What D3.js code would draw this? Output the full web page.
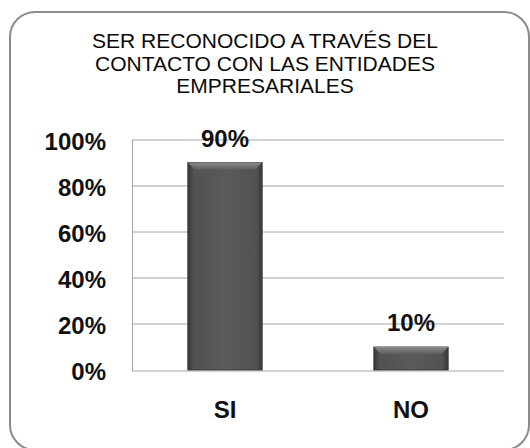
<!DOCTYPE html>
<html>
<head>
<meta charset="utf-8">
<script src="https://cdn.jsdelivr.net/npm/d3@7"></script>
<style>
  body { margin: 0; background: #fff; }
  text { font-family: Arial, "Liberation Sans", sans-serif; }
</style>
</head>
<body>
<div id="chart"></div>
<script>
// Chart data
const categories = ["SI", "NO"];
const values = [0.90, 0.10];
const valueLabels = ["90%", "10%"];
const tickValues = [0, 0.2, 0.4, 0.6, 0.8, 1.0];
const titleLines = ["SER RECONOCIDO A TRAVÉS DEL", "CONTACTO CON LAS ENTIDADES", "EMPRESARIALES"];

const width = 530, height = 448;
const margin = {top: 139.5, right: 26, bottom: 78, left: 132};

const svg = d3.select("#chart").append("svg")
    .attr("width", width)
    .attr("height", height);

// Gradients for the bevelled bars
const defs = svg.append("defs");
const body = defs.append("linearGradient").attr("id", "barBody")
    .attr("x1", "0").attr("x2", "1").attr("y1", "0").attr("y2", "0");
body.append("stop").attr("offset", "0%").attr("stop-color", "#383838");
body.append("stop").attr("offset", "8%").attr("stop-color", "#525252");
body.append("stop").attr("offset", "50%").attr("stop-color", "#5a5a5a");
body.append("stop").attr("offset", "92%").attr("stop-color", "#525252");
body.append("stop").attr("offset", "100%").attr("stop-color", "#383838");

const topG = defs.append("linearGradient").attr("id", "barTop")
    .attr("x1", "0").attr("x2", "0").attr("y1", "0").attr("y2", "1");
topG.append("stop").attr("offset", "0%").attr("stop-color", "#8a8a8a");
topG.append("stop").attr("offset", "100%").attr("stop-color", "#5e5e5e");

// Outer rounded frame
svg.append("rect")
    .attr("x", 10).attr("y", 12)
    .attr("width", 519).attr("height", 438)
    .attr("rx", 25).attr("ry", 25)
    .attr("fill", "#fff")
    .attr("stroke", "#8c8c8c")
    .attr("stroke-width", 2);

// Title
svg.append("text")
    .attr("x", 265)
    .attr("y", 48)
    .attr("text-anchor", "middle")
    .style("font-size", "21px")
    .attr("fill", "#0a0a0a")
    .selectAll("tspan")
    .data(titleLines)
    .enter()
    .append("tspan")
    .attr("x", 265)
    .attr("dy", (d, i) => i === 0 ? 0 : 22.5)
    .text(d => d);

const plotW = width - margin.left - margin.right;
const plotH = height - margin.top - margin.bottom;

const g = svg.append("g")
    .attr("transform", `translate(${margin.left},${margin.top})`);

const x = d3.scaleBand()
    .domain(categories)
    .range([0, plotW])
    .paddingInner(0.6)
    .paddingOuter(0.3);

const y = d3.scaleLinear()
    .domain([0, 1])
    .range([plotH, 0]);

// Gridlines
g.append("g")
    .selectAll("line")
    .data(tickValues)
    .enter()
    .append("line")
    .attr("x1", 0).attr("x2", plotW)
    .attr("y1", d => Math.round(y(d)) + 0.5)
    .attr("y2", d => Math.round(y(d)) + 0.5)
    .attr("stroke", "#a6a6a6")
    .attr("stroke-width", 1);

// Left axis line
g.append("line")
    .attr("x1", 0.5).attr("x2", 0.5)
    .attr("y1", Math.round(y(1)) + 0.5).attr("y2", Math.round(y(0)) + 0.5)
    .attr("stroke", "#a6a6a6");

// Y tick labels
const yAxis = d3.axisLeft(y)
    .tickValues(tickValues)
    .tickFormat(d3.format(".0%"))
    .tickSize(0)
    .tickPadding(26);

g.append("g")
    .call(yAxis)
    .call(s => s.select(".domain").remove())
    .selectAll("text")
    .attr("dy", "0.4em")
    .style("font-size", "24px")
    .style("font-weight", "bold")
    .attr("fill", "#111");

// Bars
const bars = g.append("g")
    .selectAll("g")
    .data(values)
    .enter()
    .append("g");

bars.append("rect")
    .attr("x", (d, i) => x(categories[i]))
    .attr("y", d => y(d))
    .attr("width", x.bandwidth())
    .attr("height", d => y(0) - y(d))
    .attr("fill", "url(#barBody)")
    .attr("stroke", "#333")
    .attr("stroke-width", 0.8);

// Bevel on top of each bar
const bevel = 7;
bars.append("path")
    .attr("d", (d, i) => {
        const x0 = x(categories[i]), x1 = x0 + x.bandwidth(), y0 = y(d);
        return `M${x0},${y0} L${x1},${y0} L${x1 - bevel},${y0 + bevel} L${x0 + bevel},${y0 + bevel} Z`;
    })
    .attr("fill", "url(#barTop)");

// Value labels
bars.append("text")
    .attr("x", (d, i) => x(categories[i]) + x.bandwidth() / 2)
    .attr("y", d => y(d) - 16)
    .attr("text-anchor", "middle")
    .style("font-size", "24px")
    .style("font-weight", "bold")
    .attr("fill", "#111")
    .text((d, i) => valueLabels[i]);

// X category labels
const xAxis = d3.axisBottom(x).tickSize(0).tickPadding(0);
g.append("g")
    .attr("transform", `translate(0,${plotH})`)
    .call(xAxis)
    .call(s => s.select(".domain").remove())
    .selectAll("text")
    .attr("dy", "0")
    .attr("y", 48)
    .style("font-size", "24px")
    .style("font-weight", "bold")
    .attr("fill", "#111");
</script>
</body>
</html>
